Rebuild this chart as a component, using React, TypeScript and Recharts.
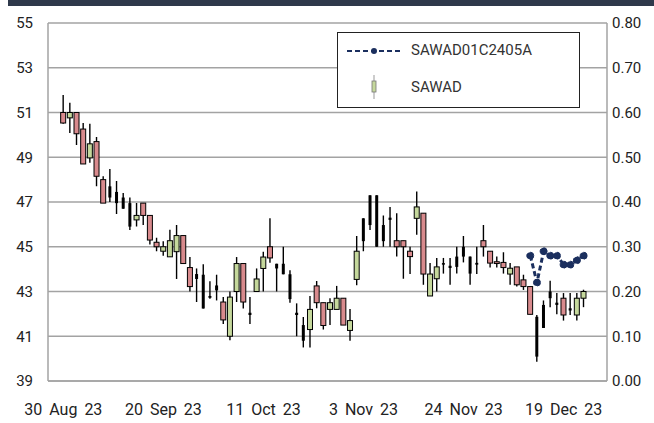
import { ComposedChart, Bar, Line, XAxis, YAxis, CartesianGrid } from "recharts";

const dates = [
  "30 Aug 23", "31 Aug 23", "1 Sep 23", "4 Sep 23", "5 Sep 23", "6 Sep 23", "7 Sep 23", "8 Sep 23",
  "11 Sep 23", "12 Sep 23", "13 Sep 23", "14 Sep 23", "15 Sep 23", "18 Sep 23", "19 Sep 23", "20 Sep 23",
  "21 Sep 23", "22 Sep 23", "25 Sep 23", "26 Sep 23", "27 Sep 23", "28 Sep 23", "29 Sep 23", "2 Oct 23",
  "3 Oct 23", "4 Oct 23", "5 Oct 23", "6 Oct 23", "9 Oct 23", "10 Oct 23", "11 Oct 23", "12 Oct 23",
  "16 Oct 23", "17 Oct 23", "18 Oct 23", "19 Oct 23", "20 Oct 23", "24 Oct 23", "25 Oct 23", "26 Oct 23",
  "27 Oct 23", "30 Oct 23", "31 Oct 23", "1 Nov 23", "2 Nov 23", "3 Nov 23", "6 Nov 23", "7 Nov 23",
  "8 Nov 23", "9 Nov 23", "10 Nov 23", "13 Nov 23", "14 Nov 23", "15 Nov 23", "16 Nov 23", "17 Nov 23",
  "20 Nov 23", "21 Nov 23", "22 Nov 23", "23 Nov 23", "24 Nov 23", "27 Nov 23", "28 Nov 23", "29 Nov 23",
  "30 Nov 23", "1 Dec 23", "4 Dec 23", "6 Dec 23", "7 Dec 23", "8 Dec 23", "12 Dec 23", "13 Dec 23",
  "14 Dec 23", "15 Dec 23", "18 Dec 23", "19 Dec 23", "20 Dec 23", "21 Dec 23", "22 Dec 23",
];

// SAWAD daily prices
const open = [
  51.0, 50.76, 51.0, 50.26, 48.97, 49.7, 48.0, 47.7, 47.45, 47.2, 46.95, 46.2, 46.95, 46.4, 45.2, 44.8,
  44.55, 44.78, 45.5, 44.07, 43.78, 43.75, 42.8, 43.27, 42.53, 41.0, 43.0, 44.25, 42.05, 43.0, 44.03, 45.0,
  44.24, 44.24, 43.77, 42.05, 41.5, 41.3, 43.25, 42.5, 42.2, 42.2, 42.7, 41.26, 43.54, 46.27, 47.3, 47.3,
  45.97, 46.3, 45.27, 45.27, 44.8, 46.27, 46.5, 42.8, 43.57, 44.27, 44.15, 44.56, 45.0, 44.56, 44.28, 45.27,
  44.8, 44.33, 44.3, 43.78, 44.1, 43.52, 43.22, 41.87, 42.4, 43.0, 42.5, 42.7, 42.25, 41.95, 42.7,
];
const high = [
  51.78, 51.44, 51.0, 50.53, 50.5, 49.9, 48.15, 48.47, 47.94, 47.4, 47.2, 46.95, 46.95, 46.4, 45.4, 45.25,
  45.76, 45.97, 45.5, 44.54, 44.03, 44.22, 43.46, 43.75, 42.75, 43.0, 44.54, 44.25, 42.75, 44.03, 44.78, 46.27,
  44.24, 45.0, 43.95, 42.47, 41.86, 42.8, 43.47, 42.5, 42.7, 43.25, 42.7, 42.22, 45.48, 46.27, 47.3, 47.3,
  46.4, 46.78, 46.5, 45.27, 45.0, 47.47, 46.5, 44.27, 44.5, 44.5, 44.5, 45.0, 45.48, 44.56, 45.0, 45.97,
  44.8, 44.56, 44.75, 44.27, 44.1, 43.75, 43.22, 41.95, 42.6, 43.48, 42.93, 42.93, 42.93, 42.93, 43.08,
];
const low = [
  50.5, 50.08, 49.55, 48.7, 48.75, 47.7, 46.95, 47.0, 46.46, 46.7, 45.75, 45.9, 45.97, 45.1, 44.8, 44.6,
  44.55, 43.56, 44.25, 43.0, 42.53, 42.24, 42.68, 42.6, 41.55, 40.82, 42.53, 42.24, 41.55, 43.0, 43.0, 44.28,
  43.0, 43.77, 42.5, 41.0, 40.5, 40.5, 42.25, 41.3, 41.5, 42.2, 41.5, 40.8, 43.28, 44.8, 45.75, 45.0,
  45.0, 45.0, 44.56, 43.57, 43.78, 45.54, 43.3, 42.8, 43.0, 43.8, 43.3, 43.8, 44.3, 43.3, 43.78, 44.56,
  44.07, 44.07, 43.8, 43.3, 43.22, 43.07, 41.98, 39.86, 41.37, 42.3, 41.98, 41.7, 41.95, 41.7, 42.3,
];
const close = [
  50.53, 51.0, 50.05, 48.7, 49.6, 48.15, 46.95, 47.2, 46.95, 46.7, 45.9, 46.4, 46.4, 45.3, 45.0, 45.0,
  45.27, 45.5, 44.25, 43.22, 43.56, 42.24, 42.72, 43.05, 41.73, 42.75, 44.25, 42.53, 41.95, 43.56, 44.54, 44.5,
  44.03, 43.77, 42.66, 41.95, 40.8, 42.2, 42.5, 41.48, 42.5, 42.7, 41.5, 41.7, 44.8, 45.25, 45.97, 45.0,
  45.25, 46.2, 45.0, 45.0, 44.56, 46.78, 43.78, 43.78, 44.1, 44.2, 44.05, 44.1, 44.56, 43.8, 44.2, 45.0,
  44.27, 44.25, 44.07, 44.04, 43.3, 43.22, 41.98, 40.09, 41.37, 42.7, 42.4, 41.95, 42.15, 42.7, 43.0,
];
// days the candle is drawn as a thin solid black bar
const thinDays = [7, 8, 9, 10, 20, 21, 22, 23, 28, 32, 33, 34, 35, 36, 45, 46, 47, 48, 49, 57, 58, 59, 60, 61, 62, 71, 72, 73, 74, 76];

// SAWAD01C2405A (right axis)
const warrantDates = ["12 Dec 23", "13 Dec 23", "14 Dec 23", "15 Dec 23", "18 Dec 23", "19 Dec 23", "20 Dec 23", "21 Dec 23", "22 Dec 23"];
const warrantValues = [0.28, 0.22, 0.29, 0.28, 0.28, 0.26, 0.26, 0.27, 0.28];

const leftTicks = [39, 41, 43, 45, 47, 49, 51, 53, 55];
const rightTicks = [0, 0.1, 0.2, 0.3, 0.4, 0.5, 0.6, 0.7, 0.8];

const data = dates.map((d, i) => {
  const w = warrantDates.indexOf(d);
  return {
    date: d,
    open: open[i],
    high: high[i],
    low: low[i],
    close: close[i],
    range: [low[i], high[i]],
    thin: thinDays.includes(i),
    warrant: w >= 0 ? warrantValues[w] : null,
  };
});

const FONT = "Roboto, sans-serif";
const NAVY = "#1b2f5e";

const Candle = (props: any) => {
  const { x, y, width, height, payload } = props;
  if (!payload) return null;
  const { open: o, close: c, high: h, low: l, thin } = payload;
  const k = h - l > 0 ? height / (h - l) : 0;
  const py = (v: number) => y + (h - v) * k;
  const cx = x + width / 2;
  const top = py(Math.max(o, c));
  const bot = py(Math.min(o, c));
  const bh = Math.max(bot - top, 1.5);
  if (thin) {
    return (
      <g>
        <line x1={cx} x2={cx} y1={y} y2={y + height} stroke="#000" strokeWidth={1.4} />
        <rect x={cx - 1.5} y={top} width={3} height={bh} fill="#000" />
      </g>
    );
  }
  const fill = c >= o ? "#c5d89c" : "#d88a8d";
  return (
    <g>
      <line x1={cx} x2={cx} y1={y} y2={y + height} stroke="#000" strokeWidth={1.4} />
      <rect x={cx - 2.5} y={top} width={5} height={bh} fill={fill} stroke="#000" strokeWidth={1} />
    </g>
  );
};

const LegendBox = () => (
  <div
    style={{
      position: "absolute",
      left: 337,
      top: 32,
      width: 243,
      height: 76,
      boxSizing: "border-box",
      border: "1px solid #222",
      background: "#fff",
      fontFamily: FONT,
      fontSize: 15,
      color: "#333",
    }}
  >
    <svg width={70} height={76} style={{ position: "absolute", left: 0, top: 0 }}>
      <line x1={9} x2={64} y1={18} y2={18} stroke={NAVY} strokeWidth={2} strokeDasharray="5 3" />
      <circle cx={36} cy={18} r={3} fill={NAVY} />
      <line x1={36} x2={36} y1={42} y2={66} stroke="#999" strokeWidth={1} />
      <rect x={34} y={48} width={4} height={11} fill="#c5d89c" stroke="#777" strokeWidth={0.8} />
    </svg>
    <div style={{ position: "absolute", left: 73, top: 8 }}>SAWAD01C2405A</div>
    <div style={{ position: "absolute", left: 73, top: 45 }}>SAWAD</div>
  </div>
);

export default function App() {
  return (
    <div style={{ position: "absolute", left: 0, top: 0, width: 654, height: 423, background: "#fff" }}>
      <div style={{ position: "absolute", left: 8, top: 0, width: 646, height: 6, background: "#2f394b" }} />
      <ComposedChart
        width={654}
        height={423}
        data={data}
        margin={{ top: 23, right: 0, bottom: 12, left: 0 }}
        style={{ fontFamily: FONT }}
      >
        <CartesianGrid yAxisId="left" vertical={false} stroke="#a3a3a3" strokeWidth={1.5} />
        <XAxis
          dataKey="date"
          interval={14}
          height={30}
          tickLine={false}
          tickSize={0}
          tickMargin={23}
          axisLine={{ stroke: "#a3a3a3", strokeWidth: 1.5 }}
          padding={{ left: 12, right: 20 }}
          tick={{ fill: "#222", fontSize: 16, wordSpacing: 3 }}
        />
        <YAxis
          yAxisId="left"
          domain={[39, 55]}
          ticks={leftTicks}
          width={48}
          tickLine={false}
          tickSize={0}
          tickMargin={15}
          axisLine={{ stroke: "#a3a3a3", strokeWidth: 1.5 }}
          tick={{ fill: "#222", fontSize: 15 }}
          allowDataOverflow
        />
        <YAxis
          yAxisId="right"
          orientation="right"
          domain={[0, 0.8]}
          ticks={rightTicks}
          width={47}
          tickLine={false}
          tickSize={0}
          tickMargin={5}
          axisLine={{ stroke: "#a3a3a3", strokeWidth: 1.5 }}
          tickFormatter={(v: number) => v.toFixed(2)}
          tick={{ fill: "#222", fontSize: 15, textAnchor: "start" }}
          allowDataOverflow
        />
        <Bar yAxisId="left" dataKey="range" shape={Candle} isAnimationActive={false} />
        <Line
          yAxisId="right"
          dataKey="warrant"
          stroke={NAVY}
          strokeWidth={3}
          strokeDasharray="5 3"
          dot={{ r: 3.5, fill: NAVY, stroke: NAVY, strokeWidth: 1 }}
          connectNulls={false}
          isAnimationActive={false}
        />
      </ComposedChart>
      <LegendBox />
    </div>
  );
}
